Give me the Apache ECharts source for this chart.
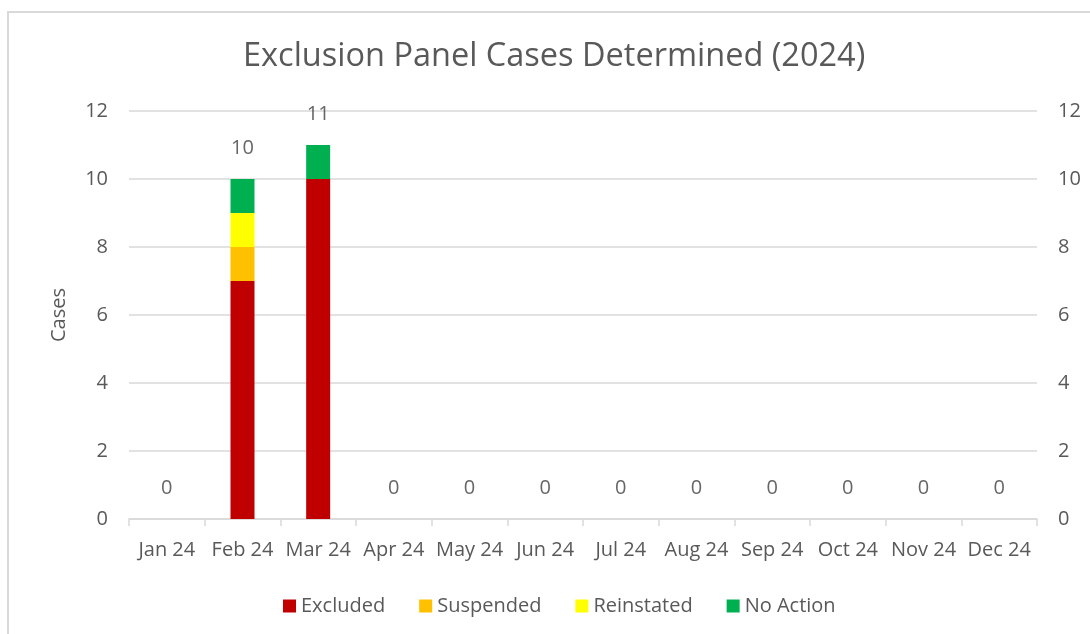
<!DOCTYPE html>
<html>
<head>
<meta charset="utf-8">
<script src="https://cdn.jsdelivr.net/npm/echarts@6/dist/echarts.min.js"></script>
<style>
  html, body { margin: 0; padding: 0; background: #fff; }
  #chart { width: 1090px; height: 634px; }
</style>
</head>
<body>
<div id="chart"></div>
<script>
var months = ['Jan 24', 'Feb 24', 'Mar 24', 'Apr 24', 'May 24', 'Jun 24', 'Jul 24', 'Aug 24', 'Sep 24', 'Oct 24', 'Nov 24', 'Dec 24']
var excluded = [0, 7, 10, 0, 0, 0, 0, 0, 0, 0, 0, 0]
var suspended = [0, 1, 0, 0, 0, 0, 0, 0, 0, 0, 0, 0]
var reinstated = [0, 1, 0, 0, 0, 0, 0, 0, 0, 0, 0, 0]
var noAction = [0, 1, 1, 0, 0, 0, 0, 0, 0, 0, 0, 0]
var totals = [0, 10, 11, 0, 0, 0, 0, 0, 0, 0, 0, 0]
var yTicks = [0, 2, 4, 6, 8, 10, 12]

var fontName = 'Open Sans'
var textGrey = '#595959'
var lineGrey = '#d9d9d9'

var chart = echarts.init(document.getElementById('chart'))

function stackBar(name, data, color) {
    return {
        name: name,
        type: 'bar',
        stack: 'cases',
        barWidth: 24,
        itemStyle: { color: color },
        data: data.map(function (v) { return v === 0 ? null : v })
    }
}

function yAxisOf(pos, margin) {
    return {
        type: 'value',
        position: pos,
        min: yTicks[0],
        max: yTicks[yTicks.length - 1],
        interval: 2,
        axisLine: { show: false },
        axisTick: { show: false },
        axisLabel: {
            margin: margin,
            color: textGrey,
            fontFamily: fontName,
            fontSize: 20
        },
        splitLine: { show: pos === 'left', lineStyle: { color: lineGrey, width: 1.5 } }
    }
}

var leftAxis = yAxisOf('left', 21)
leftAxis.name = 'Cases'
leftAxis.nameLocation = 'middle'
leftAxis.nameGap = 60
leftAxis.nameTextStyle = { color: textGrey, fontFamily: fontName, fontSize: 20 }

var option = {
    animation: false,
    title: {
        text: 'Exclusion Panel Cases Determined (2024)',
        left: 238,
        top: 35,
        textStyle: { color: textGrey, fontFamily: fontName, fontSize: 32.5, fontWeight: 'normal' }
    },
    graphic: [{
        type: 'rect',
        shape: { x: 8, y: 12, width: 1200, height: 800 },
        style: { fill: null, stroke: lineGrey, lineWidth: 2 },
        silent: true
    }],
    legend: {
        data: ['Excluded', 'Suspended', 'Reinstated', 'No Action'],
        left: 278,
        top: 591,
        icon: 'rect',
        itemWidth: 13,
        itemHeight: 13,
        itemGap: 34,
        textStyle: { color: textGrey, fontFamily: fontName, fontSize: 20 }
    },
    grid: { left: 129, right: 53, top: 111, bottom: 115 },
    xAxis: {
        type: 'category',
        data: months,
        axisLine: { lineStyle: { color: lineGrey, width: 1.5 } },
        axisTick: { show: true, interval: 0, length: 7, lineStyle: { color: lineGrey, width: 1.5 } },
        axisLabel: { interval: 0, margin: 21, color: textGrey, fontFamily: fontName, fontSize: 20 }
    },
    yAxis: [leftAxis, yAxisOf('right', 21)],
    series: [
        stackBar('Excluded', excluded, '#c00000'),
        stackBar('Suspended', suspended, '#ffc000'),
        stackBar('Reinstated', reinstated, '#ffff00'),
        stackBar('No Action', noAction, '#00b050'),
        {
            name: 'Total',
            type: 'scatter',
            data: totals,
            symbolSize: 1,
            itemStyle: { color: 'rgba(0,0,0,0)' },
            label: {
                show: true,
                position: 'top',
                distance: 20,
                color: '#404040',
                fontFamily: fontName,
                fontSize: 20
            },
            z: 5
        }
    ]
}

chart.setOption(option)
</script>
</body>
</html>
